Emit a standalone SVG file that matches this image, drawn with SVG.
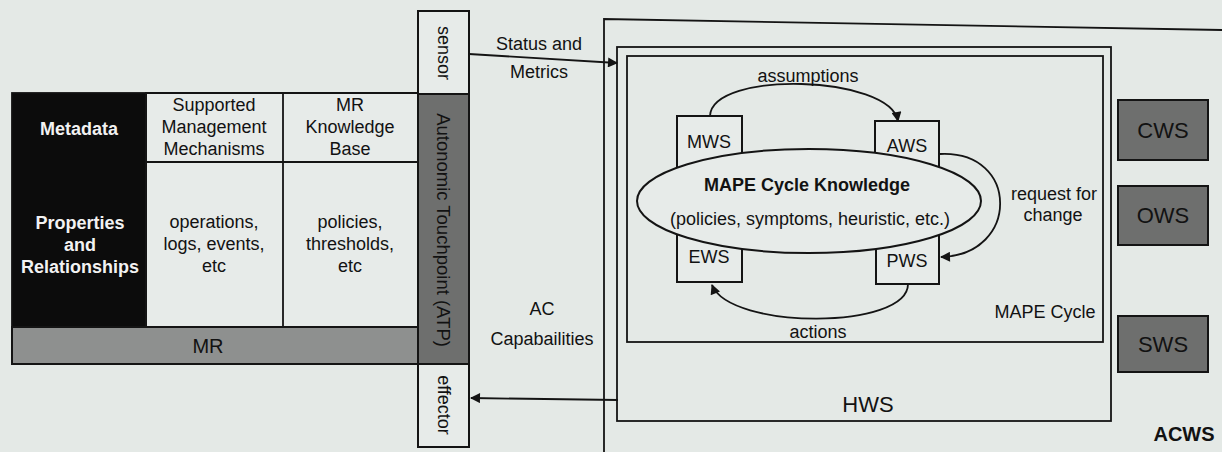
<svg xmlns="http://www.w3.org/2000/svg" width="1222" height="452" viewBox="0 0 1222 452">
  <style>
    .bg { fill: #e4e9e6; }
    .box { fill: #e7ebe9; stroke: #141414; stroke-width: 2; }
    .thin { fill: none; stroke: #141414; stroke-width: 1.8; }
    .dark { fill: #0c0c0c; stroke: #111; stroke-width: 1.8; }
    .gray { fill: #6e6f6e; stroke: #141414; stroke-width: 2; }
    .mid { fill: #8e908f; stroke: #141414; stroke-width: 2; }
    .conn { fill: none; stroke: #141414; stroke-width: 1.8; }
    text { font-family: "Liberation Sans", Arial, sans-serif; font-size: 18px; fill: #121212; text-anchor: middle; }
    .b { font-weight: bold; }
    .w { fill: #f2f2f2; }
    .big { font-size: 22px; }
  </style>
  <defs>
    <marker id="arrow" viewBox="0 0 10 10" refX="9" refY="5" markerWidth="12" markerHeight="10" markerUnits="userSpaceOnUse" orient="auto">
      <path d="M0,0 L10,5 L0,10 z" fill="#141414"/>
    </marker>
  </defs>

  <rect class="bg" x="0" y="0" width="1222" height="452"/>

  <!-- Managed resource table -->
  <g id="mr">
    <rect class="dark" x="12" y="93" width="134" height="234"/>
    <rect class="box" x="146" y="93" width="272" height="234"/>
    <line class="thin" x1="283" y1="93" x2="283" y2="327"/>
    <line class="thin" x1="146" y1="162" x2="418" y2="162"/>
    <rect class="mid" x="12" y="327" width="406" height="37"/>
    <text class="b w" x="79" y="135">Metadata</text>
    <text class="b w" x="80" y="229">Properties</text>
    <text class="b w" x="80" y="251">and</text>
    <text class="b w" x="80" y="273">Relationships</text>
    <text x="214" y="111">Supported</text>
    <text x="214" y="133">Management</text>
    <text x="214" y="155">Mechanisms</text>
    <text x="350" y="111">MR</text>
    <text x="350" y="133">Knowledge</text>
    <text x="350" y="155">Base</text>
    <text x="214" y="228">operations,</text>
    <text x="214" y="250">logs, events,</text>
    <text x="214" y="272">etc</text>
    <text x="350" y="228">policies,</text>
    <text x="350" y="250">thresholds,</text>
    <text x="350" y="272">etc</text>
    <text x="208" y="353" style="font-size:20px">MR</text>
  </g>

  <!-- Autonomic touchpoint with sensor and effector -->
  <g id="sensor">
    <rect class="box" x="418" y="11" width="51" height="83"/>
    <text transform="translate(443.5,53) rotate(90)" dominant-baseline="central">sensor</text>
  </g>
  <g id="atp">
    <rect class="gray" x="418" y="94" width="51" height="270"/>
    <text transform="translate(443.5,230) rotate(90)" dominant-baseline="central" style="font-size:18.5px">Autonomic Touchpoint (ATP)</text>
  </g>
  <g id="effector">
    <rect class="box" x="418" y="364" width="51" height="83"/>
    <text transform="translate(443.5,405) rotate(90)" dominant-baseline="central">effector</text>
  </g>

  <!-- Autonomic computing workspace -->
  <g id="acws">
    <path class="thin" d="M1222,30 L604,19 L604,452"/>
    <text class="b" x="1184" y="441" style="font-size:20px">ACWS</text>
  </g>
  <g id="hws">
    <rect class="thin" x="617" y="47" width="494" height="374"/>
    <text class="big" x="868" y="412">HWS</text>
  </g>
  <g id="mape">
    <rect class="thin" x="627" y="56" width="476" height="286"/>
    <text x="1045" y="318">MAPE Cycle</text>
  </g>
  <g id="cws">
    <rect class="gray" x="1118" y="100" width="90" height="60"/>
    <text class="big" x="1163" y="138">CWS</text>
  </g>
  <g id="ows">
    <rect class="gray" x="1118" y="186" width="90" height="59"/>
    <text class="big" x="1163" y="223">OWS</text>
  </g>
  <g id="sws">
    <rect class="gray" x="1118" y="316" width="90" height="56"/>
    <text class="big" x="1163" y="352">SWS</text>
  </g>

  <!-- MAPE workspaces -->
  <g id="mws">
    <rect class="box" x="677" y="116" width="65" height="64"/>
    <text x="709" y="148">MWS</text>
  </g>
  <g id="aws">
    <rect class="box" x="875" y="121" width="64" height="64"/>
    <text x="907" y="152">AWS</text>
  </g>
  <g id="ews">
    <rect class="box" x="677" y="222" width="65" height="60"/>
    <text x="709" y="263">EWS</text>
  </g>
  <g id="pws">
    <rect class="box" x="876" y="226" width="63" height="58"/>
    <text x="907" y="267">PWS</text>
  </g>
  <g id="knowledge">
    <ellipse class="box" cx="809" cy="201" rx="172" ry="52"/>
    <text class="b" x="807" y="191">MAPE Cycle Knowledge</text>
    <text x="810" y="225">(policies, symptoms, heuristic, etc.)</text>
  </g>

  <!-- Connectors -->
  <g id="connectors">
    <path class="conn" d="M469,54 L617,63" marker-end="url(#arrow)"/>
    <path class="conn" d="M618,400 L471,398" marker-end="url(#arrow)"/>
    <path class="conn" d="M710,116 C712,70 890,75 898,121" marker-end="url(#arrow)"/>
    <path class="conn" d="M940,154 C1020,150 1020,255 941,257" marker-end="url(#arrow)"/>
    <path class="conn" d="M908,284 C908,330 730,330 712,285" marker-end="url(#arrow)"/>
    <text x="539" y="50">Status and</text>
    <text x="539" y="78">Metrics</text>
    <text x="542" y="315">AC</text>
    <text x="542" y="345">Capabailities</text>
    <text x="808" y="82">assumptions</text>
    <text x="1054" y="200">request for</text>
    <text x="1053" y="221">change</text>
    <text x="818" y="338">actions</text>
  </g>
</svg>
